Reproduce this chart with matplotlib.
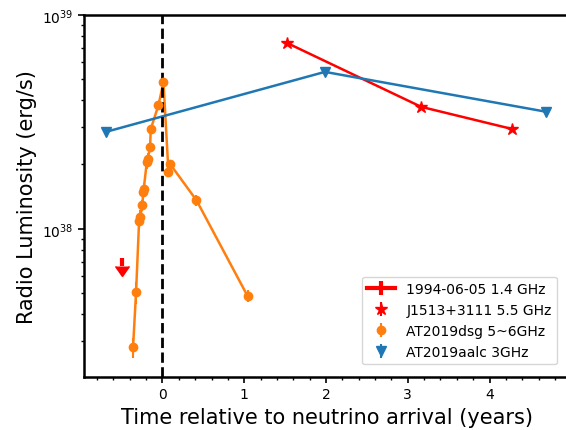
import matplotlib
matplotlib.use("Agg")
import matplotlib.pyplot as plt
import numpy as np
from matplotlib.ticker import MultipleLocator
from matplotlib.lines import Line2D

# 1994-06-05 upper limit
lim_t = [-0.50]
lim_L = [7.3e37]
lim_err = [0.62e37]

# J1513+3111 5.5 GHz
j_t = [1.523, 3.164, 4.278]
j_L = [7.4e38, 3.72e38, 2.93e38]
j_err = [0.15e38, 0.1e38, 0.08e38]

# AT2019dsg 5~6GHz
d_t = [-0.360, -0.323, -0.286, -0.272, -0.245, -0.237, -0.229, -0.192, -0.180,
       -0.152, -0.143, -0.049, 0.012, 0.073, 0.093, 0.416, 1.040]
d_L = [2.80e37, 5.06e37, 1.09e38, 1.14e38, 1.29e38, 1.48e38, 1.54e38, 2.05e38,
       2.12e38, 2.41e38, 2.93e38, 3.79e38, 4.85e38, 1.85e38, 2.01e38, 1.36e38, 4.86e37]
d_err = [0.3e37, 0.6e37, 0.08e38, 0.08e38, 0.08e38, 0.1e38, 0.1e38, 0.15e38,
         0.15e38, 0.12e38, 0.12e38, 0.15e38, 0.15e38, 0.1e38, 0.1e38, 0.08e38, 0.3e37]

# AT2019aalc 3GHz
a_t = [-0.694, 1.987, 4.69]
a_L = [2.84e38, 5.42e38, 3.53e38]
a_err = [0.05e38, 0.08e38, 0.05e38]

fig = plt.figure(figsize=(5.66, 4.31), dpi=100)
ax = fig.add_axes([0.1484, 0.123, 0.858, 0.8399])

cont = ax.errorbar(lim_t, lim_L, yerr=lim_err, uplims=True, color='red',
                   fmt='-', elinewidth=3, capsize=5, lw=3,
                   label='1994-06-05 1.4 GHz')
for cl in cont[1]:
    if cl.get_marker() == '_':
        cl.set_visible(False)

ax.plot(j_t, j_L, '-', color='red', lw=1.8)
ax.errorbar(j_t, j_L, yerr=j_err, fmt='*', color='red', markersize=9,
            label='J1513+3111 5.5 GHz')

ax.plot(d_t, d_L, '-', color='#ff7f0e', lw=1.8)
ax.errorbar(d_t, d_L, yerr=d_err, fmt='o', color='#ff7f0e', markersize=6,
            label='AT2019dsg 5~6GHz')

ax.plot(a_t, a_L, '-', color='#1f77b4', lw=1.8)
ax.errorbar(a_t, a_L, yerr=a_err, fmt='v', color='#1f77b4', markersize=7,
            label='AT2019aalc 3GHz')

ax.axvline(0, color='black', ls='--', lw=2)

ax.set_yscale('log')
ax.set_ylim(2.03e37, 1e39)
ax.set_xlim(-0.96, 4.98)
ax.xaxis.set_major_locator(MultipleLocator(1))
ax.xaxis.set_minor_locator(MultipleLocator(0.2))
for s in ax.spines.values():
    s.set_linewidth(1.8)
ax.tick_params(which='major', width=1.2, length=4)
ax.tick_params(which='minor', width=1.0, length=2.5)

ax.set_xlabel('Time relative to neutrino arrival (years)', fontsize=15)
ax.set_ylabel('Radio Luminosity (erg/s)', fontsize=15)
leg = ax.legend(loc='lower right', fontsize=10, borderaxespad=0.9,
                handleheight=0.9)
for ln in leg.findobj(Line2D):
    if ln.get_marker() == '_':
        ln.set_visible(False)

fig.savefig('out.png', dpi=100)
